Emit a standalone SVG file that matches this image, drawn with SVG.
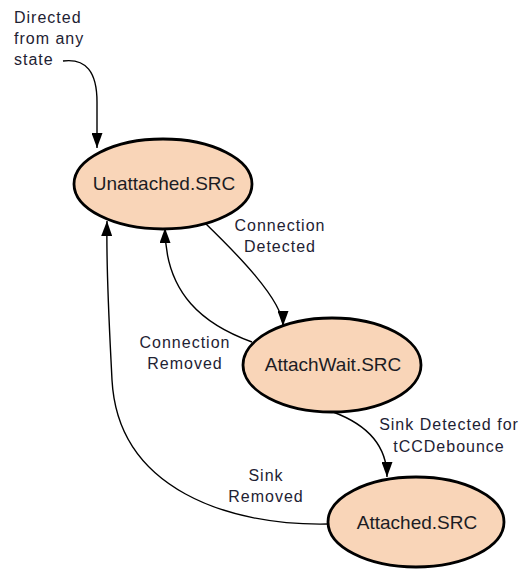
<svg xmlns="http://www.w3.org/2000/svg" width="521" height="569" viewBox="0 0 521 569">
  <style>
    .state ellipse { fill: #F9D5B8; stroke: #000; stroke-width: 2.8; }
    .state text { font-family: "Liberation Sans", Arial, sans-serif; font-size: 19px; fill: #1c1c24; text-anchor: middle; }
    .label { font-family: "Liberation Sans", Arial, sans-serif; font-size: 16px; letter-spacing: 1px; fill: #1e2233; }
    .mid { text-anchor: middle; }
    .edge { fill: none; stroke: #000; stroke-width: 1.4; marker-end: url(#arrow); }
  </style>
  <defs>
    <marker id="arrow" markerUnits="userSpaceOnUse" markerWidth="15" markerHeight="11" refX="15" refY="5.5" orient="auto">
      <path d="M0,0 L15,5.5 L0,11 Z" fill="#000"/>
    </marker>
  </defs>

  <rect width="521" height="569" fill="#fff"/>

  <!-- transitions -->
  <g id="connectors">
    <path class="edge" d="M63,61 C86,58 97,72 97,102 L97,148"/>
    <path class="edge" d="M205,223 C235,252 283,300 283,326"/>
    <path class="edge" d="M252,342 C205,325 165,295 165,228"/>
    <path class="edge" d="M333,412 C360,422 387,440 387,477"/>
    <path class="edge" d="M328,524 C230,526 118,490 112,380 C109,320 106,270 107,221"/>
  </g>

  <!-- transition labels -->
  <g id="labels">
    <text class="label" x="14" y="23">Directed</text>
    <text class="label" x="14" y="44">from any</text>
    <text class="label" x="14" y="65">state</text>
    <text class="label mid" x="280" y="231">Connection</text>
    <text class="label mid" x="280" y="252">Detected</text>
    <text class="label mid" x="185" y="348">Connection</text>
    <text class="label mid" x="185" y="369">Removed</text>
    <text class="label mid" x="449" y="430">Sink Detected for</text>
    <text class="label mid" x="449" y="452">tCCDebounce</text>
    <text class="label mid" x="266" y="481">Sink</text>
    <text class="label mid" x="266" y="502">Removed</text>
  </g>

  <!-- states -->
  <g id="unattached-src" class="state">
    <ellipse cx="163" cy="184" rx="89" ry="45"/>
    <text x="164" y="190">Unattached.SRC</text>
  </g>
  <g id="attachwait-src" class="state">
    <ellipse cx="332" cy="365" rx="89" ry="47"/>
    <text x="333" y="371">AttachWait.SRC</text>
  </g>
  <g id="attached-src" class="state">
    <ellipse cx="416" cy="522" rx="88" ry="45"/>
    <text x="417" y="529">Attached.SRC</text>
  </g>
</svg>
